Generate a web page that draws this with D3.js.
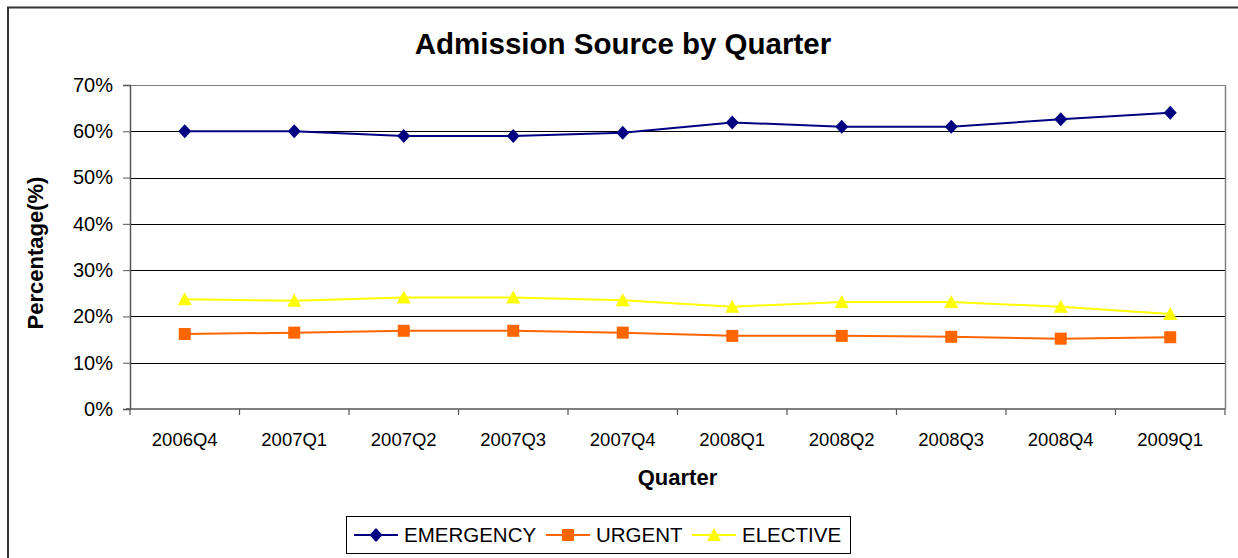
<!DOCTYPE html>
<html>
<head>
<meta charset="utf-8">
<script src="https://cdn.jsdelivr.net/npm/d3@7"></script>
<style>
  html, body { margin: 0; padding: 0; background: #fff; }
  svg { display: block; font-family: "Liberation Sans", Arial, sans-serif; }
</style>
</head>
<body>
<svg id="chart" width="1238" height="558"></svg>
<script>
const categories = ["2006Q4","2007Q1","2007Q2","2007Q3","2007Q4","2008Q1","2008Q2","2008Q3","2008Q4","2009Q1"];
const emergency = [60.0, 60.0, 59.0, 59.0, 59.7, 61.9, 61.0, 61.0, 62.6, 64.0];
const urgent    = [16.2, 16.5, 16.9, 16.9, 16.5, 15.8, 15.8, 15.6, 15.2, 15.5];
const elective  = [23.7, 23.4, 24.1, 24.1, 23.5, 22.1, 23.1, 23.1, 22.1, 20.5];
const yTicks = [0, 10, 20, 30, 40, 50, 60, 70];
const seriesNames = ["EMERGENCY", "URGENT", "ELECTIVE"];

const series = [
  { name: seriesNames[0], values: emergency, color: "#000080", symbol: "diamond" },
  { name: seriesNames[1], values: urgent,    color: "#FF6600", symbol: "square" },
  { name: seriesNames[2], values: elective,  color: "#FFFF00", symbol: "triangle" }
];

const svg = d3.select("#chart");
const pLeft = 130, pRight = 1225, pTop = 85, pBottom = 409;

// outer frame
svg.append("rect").attr("x", 8).attr("y", 7.5).attr("width", 1245).attr("height", 570)
  .attr("fill", "none").attr("stroke", "#333").attr("stroke-width", 2);

const x = d3.scaleBand().domain(categories).range([pLeft, pRight]).padding(0);
const y = d3.scaleLinear().domain([0, 70]).range([pBottom, pTop]);

// gridlines
svg.append("g").selectAll("line").data(yTicks.filter(d => d > 0)).join("line")
  .attr("x1", pLeft).attr("x2", pRight)
  .attr("y1", d => Math.round(y(d)) + 0.5).attr("y2", d => Math.round(y(d)) + 0.5)
  .attr("stroke", d => d === 70 ? "#808080" : "#000").attr("stroke-width", 1);

// right border of plot area
svg.append("line").attr("x1", pRight + 0.5).attr("x2", pRight + 0.5).attr("y1", pTop).attr("y2", pBottom)
  .attr("stroke", "#808080").attr("stroke-width", 1.5);

// y axis
const yAxis = d3.axisLeft(y).tickValues(yTicks).tickFormat(d => d + "%").tickSize(7).tickPadding(10);
const gy = svg.append("g").attr("transform", `translate(${pLeft},0)`).call(yAxis);
gy.select(".domain").attr("stroke", "#555").attr("stroke-width", 1.5);
gy.selectAll(".tick line").attr("stroke", "#555");
gy.selectAll(".tick text").attr("font-size", 20).attr("fill", "#000")
  .attr("font-family", "Liberation Sans, Arial, sans-serif");

// x axis with ticks on category boundaries
const gx = svg.append("g").attr("transform", `translate(0,${pBottom})`);
gx.append("line").attr("x1", pLeft - 4).attr("x2", pRight).attr("y1", 0).attr("y2", 0)
  .attr("stroke", "#555").attr("stroke-width", 1.5);
const boundaries = categories.map(c => x(c)).concat([x(categories[categories.length - 1]) + x.bandwidth()]);
gx.selectAll("line.tk").data(boundaries).join("line").attr("class", "tk")
  .attr("x1", d => d).attr("x2", d => d).attr("y1", 0).attr("y2", 6)
  .attr("stroke", "#555").attr("stroke-width", 1.2);
gx.selectAll("text").data(categories).join("text")
  .attr("x", d => x(d) + x.bandwidth() / 2).attr("y", 37)
  .attr("text-anchor", "middle").attr("font-size", 18.5).attr("fill", "#000").text(d => d);

// titles
svg.append("text").attr("x", 623).attr("y", 54).attr("text-anchor", "middle")
  .attr("font-size", 29.5).attr("font-weight", "bold").text("Admission Source by Quarter");
svg.append("text").attr("x", (pLeft + pRight) / 2).attr("y", 485).attr("text-anchor", "middle")
  .attr("font-size", 22).attr("font-weight", "bold").text("Quarter");
svg.append("text").attr("transform", "translate(43,253) rotate(-90)").attr("text-anchor", "middle")
  .attr("font-size", 22).attr("font-weight", "bold").text("Percentage(%)");

// symbols
function symbolPath(type) {
  if (type === "diamond") return "M0,-7L6.5,0L0,7L-6.5,0Z";
  if (type === "square") return "M-6,-6H6V6H-6Z";
  return "M0,-7L7,6H-7Z";
}

const line = d3.line().x((d, i) => x(categories[i]) + x.bandwidth() / 2).y(d => y(d));

series.forEach(s => {
  const g = svg.append("g");
  g.append("path").datum(s.values).attr("d", line)
    .attr("fill", "none").attr("stroke", s.color).attr("stroke-width", 2);
  g.selectAll("path.m").data(s.values).join("path").attr("class", "m")
    .attr("transform", (d, i) => `translate(${x(categories[i]) + x.bandwidth() / 2},${y(d)})`)
    .attr("d", symbolPath(s.symbol)).attr("fill", s.color);
});

// legend
const lg = svg.append("g");
lg.append("rect").attr("x", 346.5).attr("y", 516.5).attr("width", 504).attr("height", 37)
  .attr("fill", "#fff").attr("stroke", "#000").attr("stroke-width", 1);
const legendX = [354, 546, 692];
series.forEach((s, i) => {
  const lx = legendX[i], ly = 535;
  lg.append("line").attr("x1", lx).attr("x2", lx + 44).attr("y1", ly).attr("y2", ly)
    .attr("stroke", s.color).attr("stroke-width", 2);
  lg.append("path").attr("transform", `translate(${lx + 22},${ly})`)
    .attr("d", symbolPath(s.symbol)).attr("fill", s.color);
  lg.append("text").attr("x", lx + 50).attr("y", ly + 7).attr("font-size", 20.5)
    .attr("fill", "#000").text(s.name);
});
</script>
</body>
</html>
